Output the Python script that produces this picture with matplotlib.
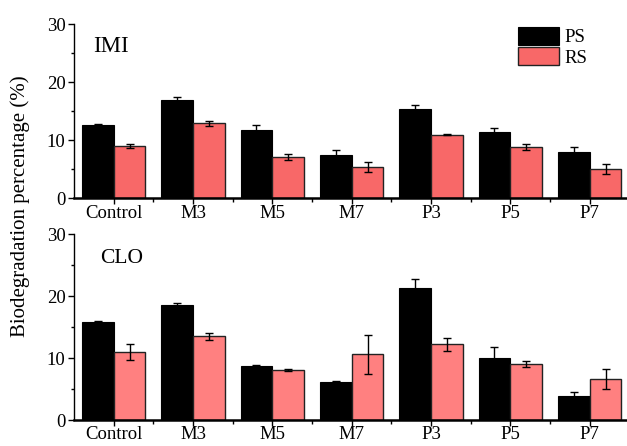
import numpy as np
import matplotlib
matplotlib.use('Agg')
import matplotlib.pyplot as plt
from matplotlib.ticker import MultipleLocator

plt.rcParams['font.family'] = ['Liberation Serif', 'DejaVu Serif']

groups = ['Control', 'M3', 'M5', 'M7', 'P3', 'P5', 'P7']

imi_ps = [12.7, 16.95, 11.8, 7.5, 15.4, 11.4, 7.9]
imi_ps_err = [0.1, 0.5, 0.9, 0.75, 0.7, 0.7, 1.0]
imi_rs = [9.1, 12.9, 7.1, 5.35, 11.0, 8.8, 5.0]
imi_rs_err = [0.35, 0.5, 0.5, 0.85, 0.1, 0.5, 0.85]

clo_ps = [15.9, 18.6, 8.75, 6.2, 21.25, 10.0, 3.95]
clo_ps_err = [0.15, 0.3, 0.1, 0.05, 1.5, 1.75, 0.6]
clo_rs = [10.95, 13.5, 8.1, 10.6, 12.2, 9.0, 6.6]
clo_rs_err = [1.25, 0.5, 0.1, 3.1, 1.05, 0.5, 1.65]

fig = plt.figure(figsize=(6.27, 4.46), dpi=100)
ax1 = fig.add_axes([0.118, 0.5554, 0.882, 0.390])
ax2 = fig.add_axes([0.118, 0.058, 0.882, 0.417])

x = np.arange(len(groups))
w = 0.4


def panel(ax, ps, ps_err, rs, rs_err, rs_color, name, name_xy, name_size):
    ax.bar(x - w / 2, ps, w, color='black', edgecolor='black', linewidth=0.8, label='PS')
    ax.bar(x + w / 2, rs, w, color=rs_color, edgecolor='#222222', linewidth=1.0, label='RS')
    ax.errorbar(x - w / 2, ps, yerr=ps_err, fmt='none', ecolor='black',
                elinewidth=1.0, capsize=3.2, capthick=1.0)
    ax.errorbar(x + w / 2, rs, yerr=rs_err, fmt='none', ecolor='black',
                elinewidth=1.0, capsize=3.2, capthick=1.0)
    ax.set_xlim(-0.5, 6.47)
    ax.set_ylim(0, 30)
    ax.set_xticks(x)
    ax.set_xticklabels(groups, fontsize=13.5)
    ax.set_xticks(x[:-1] + 0.5, minor=True)
    ax.yaxis.set_major_locator(MultipleLocator(10))
    ax.yaxis.set_minor_locator(MultipleLocator(5))
    ax.tick_params(axis='y', which='major', labelsize=13.5, length=4, width=1, pad=2)
    ax.tick_params(axis='y', which='minor', length=2.5, width=1)
    ax.tick_params(axis='x', which='major', length=4, width=1, pad=0.5)
    ax.tick_params(axis='x', which='minor', length=3, width=1)
    for s in ['top', 'right']:
        ax.spines[s].set_visible(False)
    ax.spines['left'].set_linewidth(1.0)
    ax.spines['bottom'].set_linewidth(1.8)
    fig.text(name_xy[0], name_xy[1], name, fontsize=name_size, ha='left', va='baseline')


panel(ax1, imi_ps, imi_ps_err, imi_rs, imi_rs_err, '#F86868', 'IMI',
      (93 / 627, 1 - 52 / 446), 16.5)
panel(ax2, clo_ps, clo_ps_err, clo_rs, clo_rs_err, '#FF8080', 'CLO',
      (100 / 627, 1 - 263 / 446), 15.5)

ax1.legend(loc='upper left', bbox_to_anchor=(518 / 627, 1 - 27 / 446),
           bbox_transform=fig.transFigure, frameon=False, fontsize=13.5,
           handlelength=2.2, handleheight=1.1, labelspacing=0.05,
           handletextpad=0.3, borderpad=0, borderaxespad=0)

fig.text(20 / 627, 1 - 206 / 446, 'Biodegradation percentage (%)', rotation=90,
         fontsize=15, ha='center', va='center')

fig.savefig('out.png', dpi=100)
